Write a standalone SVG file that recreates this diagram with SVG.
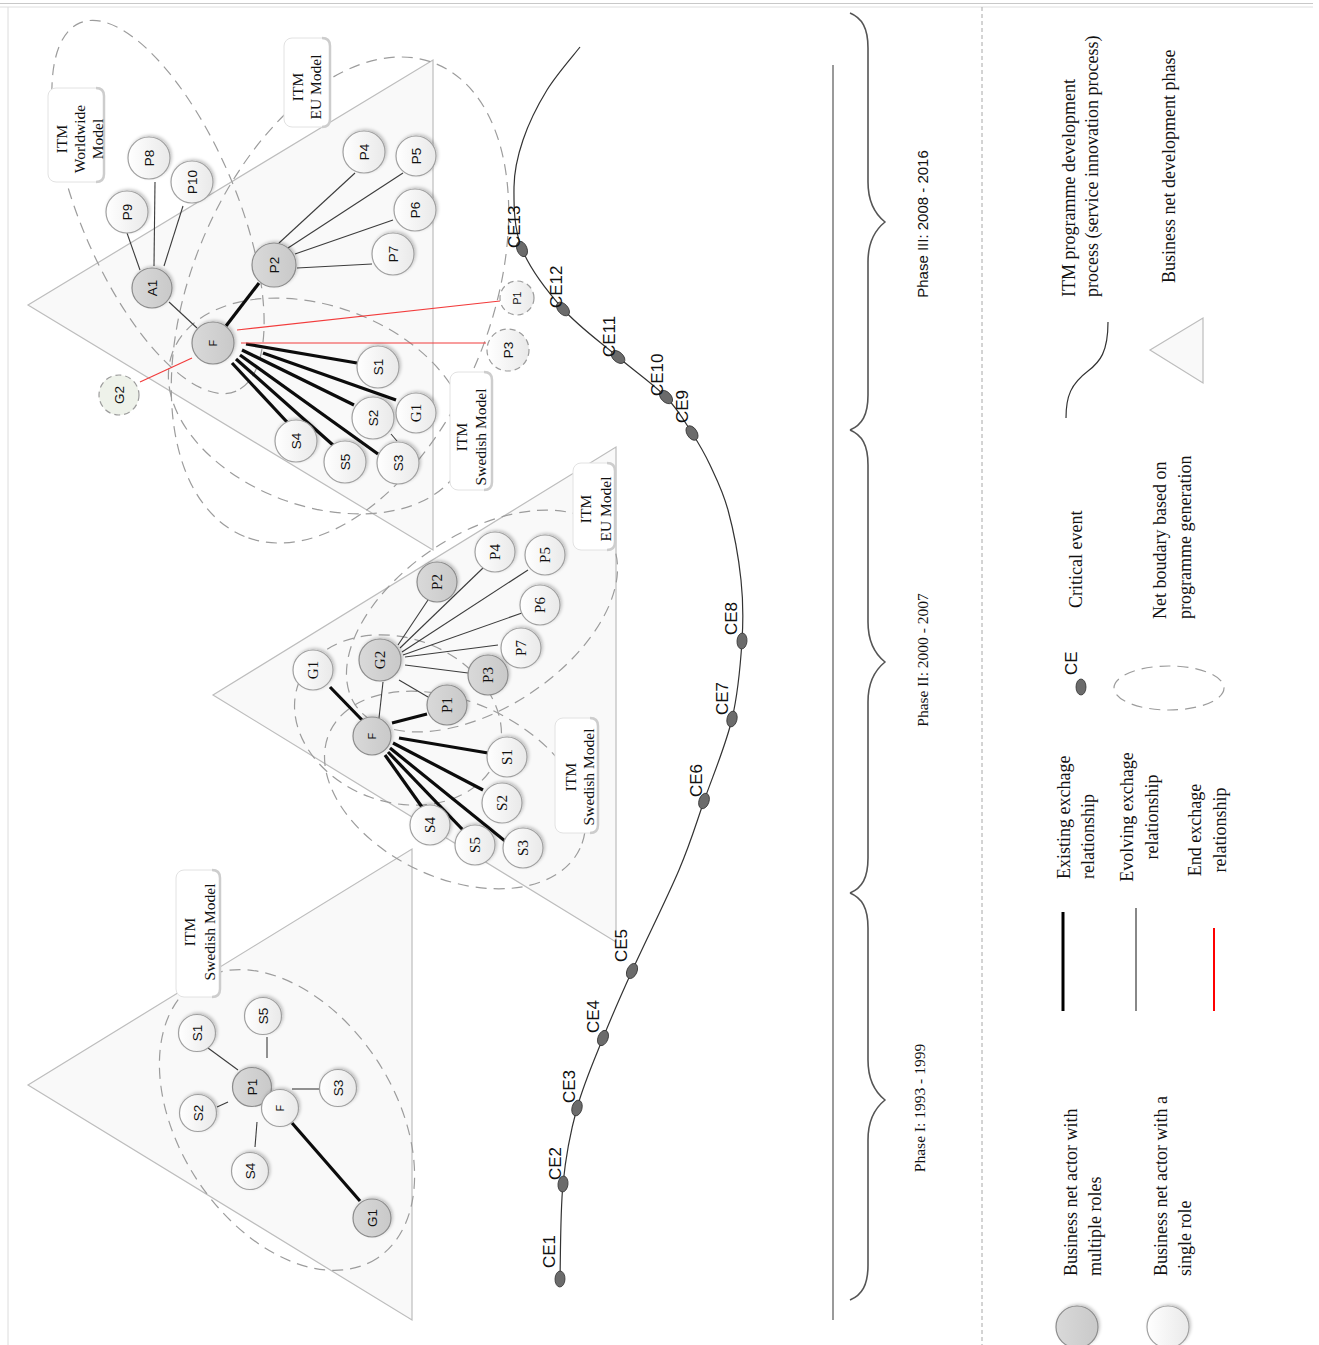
<svg xmlns="http://www.w3.org/2000/svg" width="1319" height="1345" viewBox="0 0 1319 1345">
  <defs>
    <linearGradient id="gWhite" x1="0" y1="0" x2="1" y2="0">
      <stop offset="0" stop-color="#ffffff"/>
      <stop offset="1" stop-color="#e9e9e9"/>
    </linearGradient>
    <linearGradient id="gGrey" x1="0" y1="0" x2="1" y2="0">
      <stop offset="0" stop-color="#d9d9d9"/>
      <stop offset="1" stop-color="#c9c9c9"/>
    </linearGradient>
    <filter id="sh" x="-30%" y="-30%" width="160%" height="160%">
      <feDropShadow dx="1.5" dy="-1.5" stdDeviation="1.4" flood-color="#000" flood-opacity="0.22"/>
    </filter>
    <style>
      .tri { fill:#f9f9f9; stroke:#bdbdbd; stroke-width:1.2; }
      .bound { fill:none; stroke:#9c9c9c; stroke-width:1.2; stroke-dasharray:11 7; }
      .single { fill:url(#gWhite); stroke:#a0a0a0; stroke-width:1.2; filter:url(#sh); }
      .multi { fill:url(#gGrey); stroke:#8c8c8c; stroke-width:1.2; filter:url(#sh); }
      .gone { fill:url(#gWhite); stroke:#9c9c9c; stroke-width:1.2; stroke-dasharray:6 4; }
      .gone2 { fill:#eef2ea; stroke:#9c9c9c; stroke-width:1.2; stroke-dasharray:6 4; }
      .thin { stroke:#3c3c3c; stroke-width:1.1; fill:none; }
      .thick { stroke:#0c0c0c; stroke-width:3.2; fill:none; }
      .end { stroke:#f23c3c; stroke-width:1.2; fill:none; }
      .ce { fill:#6b6b6b; stroke:#333; stroke-width:0.8; }
      .box { fill:#ffffff; stroke:#e2e2e2; stroke-width:1; }
      .boxedge { fill:none; stroke:#cdcdcd; stroke-width:2.5; }
      text { fill:#111; }
      .ns { font-family:"Liberation Sans", Arial, sans-serif; font-size:13.5px; text-anchor:middle; dominant-baseline:central; }
      .nsf { font-family:"Liberation Sans", Arial, sans-serif; font-size:10.5px; text-anchor:middle; dominant-baseline:central; }
      .nr { font-family:"Liberation Serif", "Times New Roman", serif; font-size:15px; text-anchor:middle; dominant-baseline:central; }
      .tag { font-family:"Liberation Serif", "Times New Roman", serif; font-size:15.5px; text-anchor:middle; }
      .cel { font-family:"Liberation Sans", Arial, sans-serif; font-size:17px; }
      .ph { font-family:"Liberation Serif", "Times New Roman", serif; font-size:15.5px; text-anchor:middle; }
      .phs { font-family:"Liberation Sans", Arial, sans-serif; font-size:15px; text-anchor:middle; }
      .leg { font-family:"Liberation Serif", "Times New Roman", serif; font-size:18px; }
      .legm { font-family:"Liberation Serif", "Times New Roman", serif; font-size:18px; text-anchor:middle; }
    </style>
  </defs>

  <rect x="0" y="0" width="1319" height="1345" fill="#ffffff"/>

  <!-- frame -->
  <g id="frame">
    <line x1="0" y1="3.5" x2="1313" y2="3.5" stroke="#c8c8c8" stroke-width="1"/>
    <line x1="0" y1="7" x2="1313" y2="7" stroke="#dedede" stroke-width="1"/>
    <line x1="8" y1="7" x2="8" y2="1345" stroke="#dcdcdc" stroke-width="1"/>
    <line x1="982" y1="7" x2="982" y2="1345" stroke="#a8a8a8" stroke-width="1" stroke-dasharray="4 3"/>
    <line x1="833" y1="65" x2="833" y2="1320" stroke="#9a9a9a" stroke-width="2"/>
  </g>

  <!-- development phase triangles -->
  <g id="phase1-net">
    <polygon class="tri" points="28,1085 412,849 412,1320"/>
  </g>
  <g id="phase2-net">
    <polygon class="tri" points="213,695 616,447 616,942"/>
  </g>
  <g id="phase3-net">
    <polygon class="tri" points="28,305 433,60 433,550"/>
  </g>

  <!-- net boundaries -->
  <g id="boundaries">
    <ellipse class="bound" cx="287" cy="1120" rx="165" ry="108" transform="rotate(57 287 1120)"/>
    <ellipse class="bound" cx="482" cy="621" rx="152" ry="87" transform="rotate(-33.5 482 621)"/>
    <ellipse class="bound" cx="455" cy="790" rx="138" ry="88" transform="rotate(25 455 790)"/>
    <ellipse class="bound" cx="398" cy="720" rx="106" ry="82" transform="rotate(20 398 720)"/>
    <ellipse class="bound" cx="158" cy="207" rx="200" ry="78" transform="rotate(67 158 207)"/>
    <ellipse class="bound" cx="340" cy="300" rx="255" ry="150" transform="rotate(112 340 300)"/>
    <ellipse class="bound" cx="318" cy="406" rx="155" ry="100" transform="rotate(20 318 406)"/>
  </g>

  <!-- exchange relationships -->
  <g id="connectors">
    <!-- phase I -->
    <line class="thin" x1="208" y1="1048" x2="238" y2="1070"/>
    <line class="thin" x1="267" y1="1037" x2="267" y2="1058"/>
    <line class="thin" x1="217" y1="1107" x2="228" y2="1102"/>
    <line class="thin" x1="255" y1="1147" x2="257" y2="1122"/>
    <line class="thin" x1="292" y1="1089" x2="320" y2="1089"/>
    <line class="thick" x1="292" y1="1123" x2="360" y2="1201"/>
    <!-- phase II -->
    <line class="thin" x1="398" y1="645" x2="428" y2="600"/>
    <line class="thin" x1="400" y1="648" x2="483" y2="568"/>
    <line class="thin" x1="402" y1="652" x2="528" y2="570"/>
    <line class="thin" x1="403" y1="655" x2="522" y2="613"/>
    <line class="thin" x1="405" y1="657" x2="498" y2="645"/>
    <line class="thin" x1="405" y1="665" x2="468" y2="673"/>
    <line class="thin" x1="399" y1="680" x2="428" y2="697"/>
    <line class="thin" x1="383" y1="682" x2="379" y2="718"/>
    <line class="thick" x1="330" y1="687" x2="363" y2="721"/>
    <line class="thick" x1="392" y1="723" x2="427" y2="714"/>
    <line class="thick" x1="399" y1="738" x2="488" y2="753"/>
    <line class="thick" x1="393" y1="743" x2="483" y2="790"/>
    <line class="thick" x1="390" y1="748" x2="510" y2="845"/>
    <line class="thick" x1="388" y1="752" x2="463" y2="830"/>
    <line class="thick" x1="385" y1="755" x2="422" y2="807"/>
    <!-- phase III -->
    <line class="thin" x1="127" y1="233" x2="140" y2="270"/>
    <line class="thin" x1="155" y1="182" x2="154" y2="266"/>
    <line class="thin" x1="183" y1="206" x2="164" y2="266"/>
    <line class="thin" x1="169" y1="302" x2="197" y2="328"/>
    <line class="thin" x1="279" y1="243" x2="355" y2="173"/>
    <line class="thin" x1="288" y1="248" x2="403" y2="173"/>
    <line class="thin" x1="295" y1="254" x2="393" y2="220"/>
    <line class="thin" x1="297" y1="268" x2="372" y2="264"/>
    <line class="thin" x1="391" y1="434" x2="397" y2="441"/>
    <line class="thick" x1="226" y1="326" x2="259" y2="283" stroke-width="3.6"/>
    <line class="thick" x1="246" y1="344" x2="357" y2="363"/>
    <line class="thick" x1="263" y1="353" x2="396" y2="400"/>
    <line class="thick" x1="242" y1="350" x2="354" y2="405"/>
    <line class="thick" x1="240" y1="355" x2="378" y2="454"/>
    <line class="thick" x1="236" y1="359" x2="333" y2="445"/>
    <line class="thick" x1="232" y1="363" x2="287" y2="422"/>
    <line class="end" x1="192" y1="358" x2="140" y2="382"/>
    <line class="end" x1="237" y1="330" x2="500" y2="301"/>
    <line class="end" x1="241" y1="343" x2="486" y2="343"/>
  </g>

  <!-- phase I actors -->
  <g id="p1-S1"><circle class="single" cx="197" cy="1033" r="18.5"/><text class="ns" transform="translate(197 1033) rotate(-90)">S1</text></g>
  <g id="p1-S5"><circle class="single" cx="263" cy="1016" r="18.5"/><text class="ns" transform="translate(263 1016) rotate(-90)">S5</text></g>
  <g id="p1-P1"><circle class="multi" cx="252" cy="1087" r="19.5"/><text class="ns" transform="translate(252 1087) rotate(-90)">P1</text></g>
  <g id="p1-S2"><circle class="single" cx="198" cy="1113" r="18.5"/><text class="ns" transform="translate(198 1113) rotate(-90)">S2</text></g>
  <g id="p1-F"><circle class="single" cx="280" cy="1108" r="18.5"/><text class="nsf" transform="translate(280 1108) rotate(-90)" font-size="12">F</text></g>
  <g id="p1-S3"><circle class="single" cx="338" cy="1088" r="18.5"/><text class="ns" transform="translate(338 1088) rotate(-90)">S3</text></g>
  <g id="p1-S4"><circle class="single" cx="250" cy="1171" r="18.5"/><text class="ns" transform="translate(250 1171) rotate(-90)">S4</text></g>
  <g id="p1-G1"><circle class="multi" cx="372" cy="1218" r="19"/><text class="ns" transform="translate(372 1218) rotate(-90)">G1</text></g>

  <!-- phase II actors -->
  <g id="p2-P2"><circle class="multi" cx="437" cy="582" r="20"/><text class="nr" transform="translate(437 582) rotate(-90)">P2</text></g>
  <g id="p2-P4"><circle class="single" cx="495" cy="552" r="20"/><text class="nr" transform="translate(495 552) rotate(-90)">P4</text></g>
  <g id="p2-P5"><circle class="single" cx="545" cy="555" r="20"/><text class="nr" transform="translate(545 555) rotate(-90)">P5</text></g>
  <g id="p2-P6"><circle class="single" cx="540" cy="605" r="20"/><text class="nr" transform="translate(540 605) rotate(-90)">P6</text></g>
  <g id="p2-P7"><circle class="single" cx="521" cy="648" r="20"/><text class="nr" transform="translate(521 648) rotate(-90)">P7</text></g>
  <g id="p2-P3"><circle class="multi" cx="488" cy="675" r="20"/><text class="nr" transform="translate(488 675) rotate(-90)">P3</text></g>
  <g id="p2-G1"><circle class="single" cx="313" cy="670" r="20"/><text class="nr" transform="translate(313 670) rotate(-90)">G1</text></g>
  <g id="p2-G2"><circle class="multi" cx="380" cy="660" r="21"/><text class="nr" transform="translate(380 660) rotate(-90)">G2</text></g>
  <g id="p2-P1"><circle class="multi" cx="447" cy="705" r="20"/><text class="nr" transform="translate(447 705) rotate(-90)">P1</text></g>
  <g id="p2-F"><circle class="multi" cx="372" cy="736" r="19"/><text class="nsf" transform="translate(372 736) rotate(-90)">F</text></g>
  <g id="p2-S1"><circle class="single" cx="507" cy="757" r="20"/><text class="nr" transform="translate(507 757) rotate(-90)">S1</text></g>
  <g id="p2-S2"><circle class="single" cx="502" cy="803" r="20"/><text class="nr" transform="translate(502 803) rotate(-90)">S2</text></g>
  <g id="p2-S4"><circle class="single" cx="430" cy="825" r="20"/><text class="nr" transform="translate(430 825) rotate(-90)">S4</text></g>
  <g id="p2-S5"><circle class="single" cx="475" cy="845" r="20"/><text class="nr" transform="translate(475 845) rotate(-90)">S5</text></g>
  <g id="p2-S3"><circle class="single" cx="523" cy="848" r="20"/><text class="nr" transform="translate(523 848) rotate(-90)">S3</text></g>

  <!-- phase III actors -->
  <g id="p3-P8"><circle class="single" cx="149" cy="158" r="21"/><text class="ns" transform="translate(149 158) rotate(-90)">P8</text></g>
  <g id="p3-P9"><circle class="single" cx="127" cy="212" r="21"/><text class="ns" transform="translate(127 212) rotate(-90)">P9</text></g>
  <g id="p3-P10"><circle class="single" cx="192" cy="182" r="21"/><text class="ns" transform="translate(192 182) rotate(-90)">P10</text></g>
  <g id="p3-A1"><circle class="multi" cx="152" cy="288" r="20"/><text class="ns" transform="translate(152 288) rotate(-90)">A1</text></g>
  <g id="p3-P2"><circle class="multi" cx="274" cy="265" r="22"/><text class="ns" transform="translate(274 265) rotate(-90)">P2</text></g>
  <g id="p3-P4"><circle class="single" cx="364" cy="152" r="21"/><text class="ns" transform="translate(364 152) rotate(-90)">P4</text></g>
  <g id="p3-P5"><circle class="single" cx="416" cy="156" r="20"/><text class="ns" transform="translate(416 156) rotate(-90)">P5</text></g>
  <g id="p3-P6"><circle class="single" cx="415" cy="210" r="21"/><text class="ns" transform="translate(415 210) rotate(-90)">P6</text></g>
  <g id="p3-P7"><circle class="single" cx="393" cy="254" r="21"/><text class="ns" transform="translate(393 254) rotate(-90)">P7</text></g>
  <g id="p3-F"><circle class="multi" cx="213" cy="343" r="21"/><text class="nsf" transform="translate(213 343) rotate(-90)">F</text></g>
  <g id="p3-G2"><circle class="gone2" cx="119" cy="395" r="20"/><text class="ns" transform="translate(119 395) rotate(-90)">G2</text></g>
  <g id="p3-S1"><circle class="single" cx="378" cy="367" r="21"/><text class="ns" transform="translate(378 367) rotate(-90)">S1</text></g>
  <g id="p3-S2"><circle class="single" cx="373" cy="418" r="21"/><text class="ns" transform="translate(373 418) rotate(-90)">S2</text></g>
  <g id="p3-G1"><circle class="single" cx="416" cy="413" r="20"/><text class="nr" transform="translate(416 413) rotate(-90)">G1</text></g>
  <g id="p3-S4"><circle class="single" cx="296" cy="441" r="21"/><text class="ns" transform="translate(296 441) rotate(-90)">S4</text></g>
  <g id="p3-S5"><circle class="single" cx="345" cy="462" r="21"/><text class="ns" transform="translate(345 462) rotate(-90)">S5</text></g>
  <g id="p3-S3"><circle class="single" cx="398" cy="463" r="21"/><text class="ns" transform="translate(398 463) rotate(-90)">S3</text></g>
  <g id="p3-P1"><circle class="gone" cx="517" cy="298" r="17"/><text class="nsf" transform="translate(517 298) rotate(-90)" font-size="11.5">P1</text></g>
  <g id="p3-P3"><circle class="gone" cx="508" cy="350" r="21"/><text class="ns" transform="translate(508 350) rotate(-90)" font-size="13">P3</text></g>

  <!-- programme generation tags -->
  <g id="tag-p1-swedish">
    <rect class="box" x="176" y="870" width="44" height="127" rx="8"/>
    <path class="boxedge" d="M212,870 Q220,870 220,878 L220,989 Q220,997 212,997"/>
    <text class="tag" transform="translate(195 932) rotate(-90)"><tspan x="0" y="0">ITM</tspan><tspan x="0" y="20">Swedish Model</tspan></text>
  </g>
  <g id="tag-p2-eu">
    <rect class="box" x="573" y="463" width="42" height="87" rx="8"/>
    <path class="boxedge" d="M607,463 Q615,463 615,471 L615,542 Q615,550 607,550"/>
    <text class="tag" transform="translate(591 509) rotate(-90)"><tspan x="0" y="0">ITM</tspan><tspan x="0" y="20">EU Model</tspan></text>
  </g>
  <g id="tag-p2-swedish">
    <rect class="box" x="555" y="718" width="43" height="115" rx="8"/>
    <path class="boxedge" d="M590,718 Q598,718 598,726 L598,825 Q598,833 590,833"/>
    <text class="tag" transform="translate(576 777) rotate(-90)"><tspan x="0" y="0">ITM</tspan><tspan x="0" y="18">Swedish Model</tspan></text>
  </g>
  <g id="tag-p3-worldwide">
    <rect class="box" x="48" y="88" width="56" height="94" rx="8"/>
    <path class="boxedge" d="M96,88 Q104,88 104,96 L104,174 Q104,182 96,182"/>
    <text class="tag" transform="translate(67 139) rotate(-90)"><tspan x="0" y="0">ITM</tspan><tspan x="0" y="18">Worldwide</tspan><tspan x="0" y="36">Model</tspan></text>
  </g>
  <g id="tag-p3-eu">
    <rect class="box" x="284" y="38" width="46" height="89" rx="8"/>
    <path class="boxedge" d="M322,38 Q330,38 330,46 L330,119 Q330,127 322,127"/>
    <text class="tag" transform="translate(303 87) rotate(-90)"><tspan x="0" y="0">ITM</tspan><tspan x="0" y="18">EU Model</tspan></text>
  </g>
  <g id="tag-p3-swedish">
    <rect class="box" x="450" y="372" width="42" height="118" rx="8"/>
    <path class="boxedge" d="M484,372 Q492,372 492,380 L492,482 Q492,490 484,490"/>
    <text class="tag" transform="translate(467 437) rotate(-90)"><tspan x="0" y="0">ITM</tspan><tspan x="0" y="19">Swedish Model</tspan></text>
  </g>

  <!-- ITM programme development process -->
  <g id="process">
    <path fill="none" stroke="#333" stroke-width="1.2" d="M560,1279 C560.5,1263.2 560.2,1212.5 563,1184 C565.8,1155.5 570.3,1132.3 577,1108 C583.7,1083.7 593.8,1060.8 603,1038 C612.2,1015.2 619.3,999 632,971 C644.7,943 667,898.3 679,870 C691,841.7 695.2,826.2 704,801 C712.8,775.8 725.7,745.7 732,719 C738.3,692.3 740.5,664.2 742,641 C743.5,617.8 743.3,601.8 741,580 C738.7,558.2 733.2,529.2 728,510 C722.8,490.8 716,477.8 710,465 C704,452.2 699.3,444.3 692,433 C684.7,421.7 678.3,409.7 666,397 C653.7,384.3 635.2,371.7 618,357 C600.8,342.3 579,327 563,309 C547,291 530.2,269.3 522,249 C513.8,228.7 513.8,205.2 514,187 C514.2,168.8 517.5,156.2 523,140 C528.5,123.8 537.5,105.5 547,90 C556.5,74.5 574.5,54.2 580,47"/>
    <g id="ce1"><ellipse class="ce" cx="560" cy="1279" rx="5" ry="8" transform="rotate(2 560 1279)"/><text class="cel" transform="translate(555 1268) rotate(-90)">CE1</text></g>
    <g id="ce2"><ellipse class="ce" cx="563" cy="1184" rx="5" ry="8" transform="rotate(6 563 1184)"/><text class="cel" transform="translate(561 1180) rotate(-90)">CE2</text></g>
    <g id="ce3"><ellipse class="ce" cx="577" cy="1108" rx="5" ry="8" transform="rotate(15 577 1108)"/><text class="cel" transform="translate(575 1103) rotate(-90)">CE3</text></g>
    <g id="ce4"><ellipse class="ce" cx="603" cy="1038" rx="5" ry="8" transform="rotate(22 603 1038)"/><text class="cel" transform="translate(599 1033) rotate(-90)">CE4</text></g>
    <g id="ce5"><ellipse class="ce" cx="632" cy="971" rx="5" ry="8" transform="rotate(24 632 971)"/><text class="cel" transform="translate(627 962) rotate(-90)">CE5</text></g>
    <g id="ce6"><ellipse class="ce" cx="704" cy="801" rx="5" ry="8" transform="rotate(19 704 801)"/><text class="cel" transform="translate(702 797) rotate(-90)">CE6</text></g>
    <g id="ce7"><ellipse class="ce" cx="732" cy="719" rx="5" ry="8" transform="rotate(13 732 719)"/><text class="cel" transform="translate(728 715) rotate(-90)">CE7</text></g>
    <g id="ce8"><ellipse class="ce" cx="742" cy="641" rx="5" ry="8" transform="rotate(4 742 641)"/><text class="cel" transform="translate(737 635) rotate(-90)">CE8</text></g>
    <g id="ce9"><ellipse class="ce" cx="692" cy="433" rx="5" ry="8" transform="rotate(-33 692 433)"/><text class="cel" transform="translate(688 423) rotate(-90)">CE9</text></g>
    <g id="ce10"><ellipse class="ce" cx="666" cy="397" rx="5" ry="8" transform="rotate(-44 666 397)"/><text class="cel" transform="translate(663 396) rotate(-90)">CE10</text></g>
    <g id="ce11"><ellipse class="ce" cx="618" cy="357" rx="5" ry="8" transform="rotate(-49 618 357)"/><text class="cel" transform="translate(615 357) rotate(-90)">CE11</text></g>
    <g id="ce12"><ellipse class="ce" cx="563" cy="309" rx="5" ry="8" transform="rotate(-42 563 309)"/><text class="cel" transform="translate(562 308) rotate(-90)">CE12</text></g>
    <g id="ce13"><ellipse class="ce" cx="522" cy="249" rx="5" ry="8" transform="rotate(-22 522 249)"/><text class="cel" transform="translate(520 248) rotate(-90)">CE13</text></g>
  </g>

  <!-- phase brackets -->
  <g id="phases" fill="none" stroke="#555" stroke-width="1.6">
    <path d="M850,13 C862,18 868,28 868,48 L868,182 C868,202 875,214 885,222 C875,230 868,242 868,262 L868,395 C868,415 862,425 850,430"/>
    <path d="M850,430 C862,435 868,445 868,465 L868,622 C868,642 875,654 885,662 C875,670 868,682 868,702 L868,858 C868,878 862,888 850,893"/>
    <path d="M850,893 C862,898 868,908 868,928 L868,1060 C868,1080 875,1092 885,1100 C875,1108 868,1120 868,1140 L868,1265 C868,1285 862,1295 850,1300"/>
  </g>
  <g id="phase-labels">
    <text class="phs" transform="translate(928 224) rotate(-90)">Phase III: 2008 - 2016</text>
    <text class="ph" transform="translate(928 660) rotate(-90)">Phase II: 2000 - 2007</text>
    <text class="ph" transform="translate(925 1108) rotate(-90)">Phase I: 1993 - 1999</text>
  </g>

  <!-- legend -->
  <g id="legend">
    <path fill="none" stroke="#333" stroke-width="1.2" d="M1108,322 C1108,352 1100,362 1088,371 C1071,384 1066,396 1066,418"/>
    <text class="leg" transform="translate(1075 297) rotate(-90)"><tspan x="0" y="0">ITM programme development</tspan><tspan x="0" y="23">process (service innovation process)</tspan></text>
    <polygon class="tri" points="1150,350 1203,318 1203,383"/>
    <text class="leg" transform="translate(1175 283) rotate(-90)">Business net development phase</text>

    <ellipse class="ce" cx="1081" cy="687" rx="5" ry="8"/>
    <text class="cel" transform="translate(1077 675) rotate(-90)">CE</text>
    <text class="leg" transform="translate(1082 608) rotate(-90)">Critical event</text>
    <ellipse class="bound" cx="1169" cy="688" rx="55" ry="22"/>
    <text class="leg" transform="translate(1166 619) rotate(-90)"><tspan x="0" y="0">Net boudary based on</tspan><tspan x="0" y="25">programme generation</tspan></text>

    <line x1="1063" y1="912" x2="1063" y2="1011" stroke="#000" stroke-width="3"/>
    <line x1="1136" y1="908" x2="1136" y2="1011" stroke="#888" stroke-width="2"/>
    <line x1="1214" y1="928" x2="1214" y2="1011" stroke="#f00" stroke-width="2"/>
    <text class="leg" transform="translate(1070 879) rotate(-90)"><tspan x="0" y="0">Existing exchage</tspan><tspan x="0" y="24">relationship</tspan></text>
    <text class="legm" transform="translate(1133 817) rotate(-90)"><tspan x="0" y="0">Evolving exchage</tspan><tspan x="0" y="25">relationship</tspan></text>
    <text class="legm" transform="translate(1201 830) rotate(-90)"><tspan x="0" y="0">End exchage</tspan><tspan x="0" y="25">relationship</tspan></text>

    <text class="leg" transform="translate(1077 1276) rotate(-90)"><tspan x="0" y="0">Business net actor with</tspan><tspan x="0" y="24">multiple roles</tspan></text>
    <text class="leg" transform="translate(1167 1276) rotate(-90)"><tspan x="0" y="0">Business net actor with a</tspan><tspan x="0" y="24">single role</tspan></text>
    <circle class="multi" cx="1077" cy="1327" r="21"/>
    <circle class="single" cx="1168" cy="1327" r="21"/>
  </g>
</svg>
